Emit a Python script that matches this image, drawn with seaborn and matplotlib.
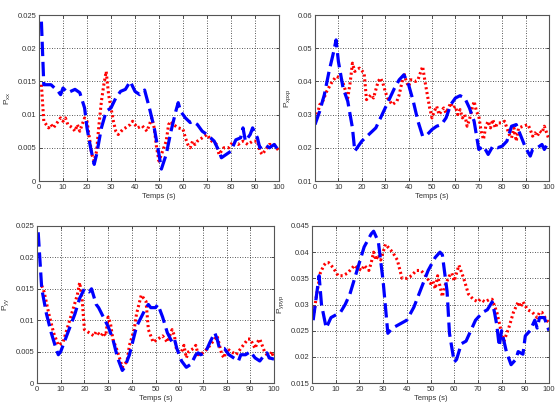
import matplotlib
matplotlib.use("Agg")
import matplotlib.pyplot as plt
import seaborn as sns
import pandas as pd
from matplotlib.ticker import FuncFormatter

# ---------------- data ----------------
# P_xx
xx_blue_t = [1, 2, 3, 5, 8, 9, 10, 12, 15, 17, 19, 20, 21.5, 23, 24, 26, 28, 30, 32, 34, 36, 38, 40, 42, 44, 46, 48, 50, 51, 53, 55, 57, 58, 59, 61, 63, 64, 66, 68, 70, 73, 75, 76, 78, 80, 82, 84, 85, 86, 88, 89, 91, 92, 94, 96, 98, 100]
xx_blue_v = [0.024, 0.0145, 0.0145, 0.0145, 0.0135, 0.013, 0.014, 0.0133, 0.0138, 0.0133, 0.011, 0.008, 0.005, 0.0025, 0.004, 0.008, 0.0105, 0.011, 0.0125, 0.0135, 0.0138, 0.015, 0.0135, 0.013, 0.0137, 0.011, 0.008, 0.004, 0.0018, 0.004, 0.0075, 0.0105, 0.0118, 0.0105, 0.0095, 0.0088, 0.009, 0.0085, 0.0075, 0.007, 0.006, 0.0045, 0.0035, 0.004, 0.0045, 0.0062, 0.0065, 0.008, 0.006, 0.007, 0.008, 0.0065, 0.005, 0.0055, 0.005, 0.0055, 0.0045]
xx_red_t = [1, 2, 3, 4, 5, 6, 8, 9, 10, 11, 12, 14, 15, 16, 17, 18, 19, 20, 21, 22, 23, 24, 25, 26, 27, 28, 29, 30, 31, 32, 33, 35, 36, 38, 39, 41, 43, 45, 46, 47, 48, 49, 50, 51, 53, 54, 55, 56, 58, 60, 61, 62, 63, 64, 65, 66, 68, 70, 72, 74, 75, 77, 79, 81, 83, 85, 87, 89, 91, 92, 93, 94, 96, 98, 100]
xx_red_v = [0.0145, 0.009, 0.0085, 0.008, 0.0085, 0.008, 0.009, 0.0095, 0.009, 0.0095, 0.0085, 0.008, 0.0075, 0.0085, 0.0075, 0.0085, 0.0095, 0.009, 0.0065, 0.004, 0.003, 0.0045, 0.0085, 0.012, 0.0145, 0.0165, 0.013, 0.011, 0.009, 0.0075, 0.007, 0.0078, 0.008, 0.0085, 0.009, 0.008, 0.0083, 0.0075, 0.0085, 0.0095, 0.008, 0.005, 0.003, 0.004, 0.006, 0.0085, 0.009, 0.0085, 0.008, 0.0078, 0.0065, 0.0055, 0.005, 0.006, 0.0055, 0.006, 0.0065, 0.007, 0.006, 0.0055, 0.004, 0.005, 0.005, 0.006, 0.0055, 0.006, 0.0055, 0.006, 0.006, 0.0045, 0.004, 0.0045, 0.0055, 0.0055, 0.0045]

# P_xpxp
xp_blue_t = [0, 2, 4, 6, 8, 9, 10, 12, 14, 16, 17, 19, 20, 23, 26, 28, 30, 32, 34, 36, 38, 40, 42, 44, 46, 48, 50, 52, 54, 56, 58, 60, 62, 64, 66, 68, 70, 72, 74, 76, 78, 80, 82, 84, 86, 88, 90, 92, 93, 95, 97, 98, 100]
xp_blue_v = [0.027, 0.031, 0.036, 0.043, 0.049, 0.0525, 0.046, 0.038, 0.034, 0.026, 0.019, 0.021, 0.022, 0.024, 0.026, 0.029, 0.032, 0.035, 0.038, 0.0405, 0.042, 0.039, 0.034, 0.028, 0.0235, 0.024, 0.0255, 0.0265, 0.027, 0.029, 0.033, 0.035, 0.0357, 0.035, 0.032, 0.028, 0.0195, 0.0205, 0.018, 0.0205, 0.02, 0.0205, 0.022, 0.0265, 0.027, 0.0235, 0.02, 0.0175, 0.0195, 0.02, 0.021, 0.0195, 0.022]
xp_red_t = [1, 2, 3, 5, 7, 9, 11, 12, 14, 15, 16, 17, 19, 21, 22, 24, 25, 27, 28, 29, 30, 31, 32, 33, 35, 36, 38, 39, 40, 41, 43, 44, 46, 47, 48, 49, 50, 51, 52, 53, 54, 55, 56, 58, 59, 60, 61, 62, 63, 64, 65, 66, 67, 68, 69, 70, 71, 72, 73, 74, 75, 76, 77, 78, 80, 81, 82, 83, 84, 85, 86, 87, 89, 91, 92, 93, 94, 95, 96, 97, 98, 100]
xp_red_v = [0.03, 0.033, 0.0335, 0.037, 0.0395, 0.0415, 0.041, 0.0395, 0.035, 0.0395, 0.0455, 0.043, 0.044, 0.0425, 0.0345, 0.036, 0.035, 0.04, 0.041, 0.0395, 0.037, 0.035, 0.034, 0.033, 0.034, 0.036, 0.0425, 0.04, 0.0385, 0.0405, 0.04, 0.0405, 0.0445, 0.04, 0.036, 0.032, 0.029, 0.031, 0.0325, 0.03, 0.031, 0.032, 0.0305, 0.0335, 0.032, 0.0325, 0.03, 0.0315, 0.029, 0.03, 0.0265, 0.0285, 0.0315, 0.034, 0.031, 0.0295, 0.025, 0.0225, 0.0265, 0.028, 0.026, 0.0285, 0.026, 0.0275, 0.0275, 0.028, 0.026, 0.024, 0.023, 0.026, 0.022, 0.026, 0.0265, 0.027, 0.0255, 0.0235, 0.0245, 0.0235, 0.025, 0.0245, 0.0265, 0.0225]

# P_yy
yy_blue_t = [0.5, 2, 4, 6, 8, 9, 10, 12, 14, 16, 18, 20, 22, 23, 25, 26, 28, 30, 32, 34, 36, 37, 39, 40, 42, 44, 46, 47, 48, 50, 51, 53, 55, 57, 58, 59, 60, 61, 63, 65, 67, 68, 69, 71, 73, 75, 76, 77, 79, 81, 83, 85, 86, 88, 90, 92, 94, 96, 97, 98, 100]
yy_blue_v = [0.024, 0.015, 0.011, 0.008, 0.0055, 0.0045, 0.005, 0.007, 0.009, 0.011, 0.0135, 0.015, 0.0145, 0.015, 0.0125, 0.012, 0.0105, 0.009, 0.007, 0.004, 0.002, 0.0025, 0.0045, 0.006, 0.009, 0.0105, 0.012, 0.0125, 0.012, 0.012, 0.0125, 0.0105, 0.008, 0.0065, 0.007, 0.0055, 0.0045, 0.0035, 0.0025, 0.003, 0.0045, 0.0048, 0.0045, 0.0048, 0.0065, 0.008, 0.007, 0.0055, 0.0055, 0.0045, 0.004, 0.0035, 0.0045, 0.0045, 0.005, 0.004, 0.0035, 0.0045, 0.0048, 0.004, 0.0038]
yy_red_t = [2, 3, 5, 7, 9, 11, 13, 15, 17, 18, 19, 20, 22, 24, 25, 27, 28, 29, 30, 31, 32, 34, 36, 38, 39, 41, 42, 44, 46, 47, 49, 51, 53, 55, 57, 58, 59, 61, 62, 63, 64, 66, 67, 68, 70, 72, 73, 75, 76, 78, 79, 80, 82, 84, 85, 87, 89, 90, 92, 93, 94, 96, 97, 98, 99, 100]
yy_red_v = [0.0155, 0.0145, 0.011, 0.008, 0.006, 0.0065, 0.009, 0.0115, 0.014, 0.016, 0.0135, 0.0085, 0.008, 0.0075, 0.0082, 0.0075, 0.008, 0.0075, 0.0105, 0.0095, 0.007, 0.005, 0.0025, 0.0035, 0.006, 0.0085, 0.011, 0.014, 0.013, 0.0085, 0.0065, 0.007, 0.0075, 0.0065, 0.0085, 0.0075, 0.005, 0.005, 0.006, 0.004, 0.005, 0.0055, 0.006, 0.0045, 0.0048, 0.0055, 0.006, 0.007, 0.0075, 0.0045, 0.004, 0.0055, 0.005, 0.0045, 0.005, 0.006, 0.007, 0.007, 0.0055, 0.0065, 0.007, 0.005, 0.0045, 0.004, 0.005, 0.004]

# P_ypyp
yp_blue_t = [0.5, 3, 4, 6, 8, 10, 12, 14, 16, 18, 20, 22, 25, 26, 28, 30, 32, 34, 36, 38, 40, 43, 46, 49, 52, 54, 55, 57, 58, 60, 61, 63, 65, 67, 69, 72, 74, 76, 77, 78, 79, 80, 82, 84, 86, 87, 89, 90, 92, 94, 95, 96, 98, 100]
yp_blue_v = [0.027, 0.0355, 0.03, 0.0255, 0.0275, 0.028, 0.0285, 0.03, 0.032, 0.035, 0.038, 0.041, 0.0435, 0.044, 0.042, 0.0345, 0.0245, 0.0255, 0.026, 0.0265, 0.027, 0.0295, 0.033, 0.0365, 0.039, 0.04, 0.0395, 0.0325, 0.0245, 0.019, 0.0195, 0.0225, 0.023, 0.025, 0.027, 0.0285, 0.029, 0.0305, 0.0285, 0.026, 0.022, 0.025, 0.021, 0.0185, 0.0195, 0.021, 0.0205, 0.024, 0.025, 0.027, 0.0255, 0.0275, 0.0275, 0.025]
yp_red_t = [0.5, 2, 3.5, 5, 6, 7, 9, 11, 13, 15, 18, 19, 21, 22, 24, 25, 26, 27, 28, 29, 31, 33, 34, 36, 38, 40, 42, 44, 46, 48, 50, 51, 52, 53, 55, 56, 58, 59, 60, 62, 64, 66, 68, 70, 71, 73, 75, 76, 78, 80, 81, 83, 85, 87, 88, 89, 91, 93, 95, 96, 97, 99, 100]
yp_red_v = [0.0275, 0.032, 0.036, 0.0375, 0.038, 0.038, 0.037, 0.0355, 0.0355, 0.036, 0.0375, 0.037, 0.0365, 0.0375, 0.0365, 0.038, 0.04, 0.0385, 0.0395, 0.0385, 0.0415, 0.0405, 0.04, 0.0385, 0.035, 0.035, 0.0355, 0.0365, 0.0365, 0.0355, 0.034, 0.0345, 0.033, 0.0355, 0.0315, 0.0335, 0.0355, 0.036, 0.0345, 0.0375, 0.035, 0.032, 0.031, 0.0305, 0.031, 0.0305, 0.031, 0.031, 0.0285, 0.0245, 0.023, 0.0255, 0.0285, 0.0305, 0.0295, 0.0305, 0.029, 0.0285, 0.0275, 0.0285, 0.0285, 0.027, 0.0265]

ylabels = [r"$\mathregular{P_{xx}}$", r"$\mathregular{P_{xpxp}}$",
           r"$\mathregular{P_{yy}}$", r"$\mathregular{P_{ypyp}}$"]
ylims = [(0, 0.025), (0.01, 0.06), (0, 0.025), (0.015, 0.045)]
ysteps = [0.005, 0.01, 0.005, 0.005]
xlabel = "Temps (s)"

# ---------------- plot ----------------
sns.set_theme(style="white")
plt.rcParams["font.family"] = ["Liberation Sans Narrow", "Liberation Sans", "DejaVu Sans"]
plt.rcParams["mathtext.fontset"] = "custom"
plt.rcParams["mathtext.rm"] = "Liberation Sans Narrow"

fig = plt.figure(figsize=(5.55, 4.05), dpi=100)
positions = [
    [39 / 555, (405 - 181) / 405, 240 / 555, 166 / 405],
    [315 / 555, (405 - 181) / 405, 234 / 555, 166 / 405],
    [37 / 555, (405 - 383) / 405, 237 / 555, 157 / 405],
    [312 / 555, (405 - 383) / 405, 237 / 555, 157 / 405],
]
series = [
    (xx_blue_t, xx_blue_v, xx_red_t, xx_red_v),
    (xp_blue_t, xp_blue_v, xp_red_t, xp_red_v),
    (yy_blue_t, yy_blue_v, yy_red_t, yy_red_v),
    (yp_blue_t, yp_blue_v, yp_red_t, yp_red_v),
]
fmt = FuncFormatter(lambda v, p: ("%g" % round(v, 4)))

for i in range(4):
    ax = fig.add_axes(positions[i])
    bt, bv, rt, rv = series[i]
    dfb = pd.DataFrame({"t": bt, "v": bv})
    dfr = pd.DataFrame({"t": rt, "v": rv})
    sns.lineplot(data=dfr, x="t", y="v", ax=ax, color="#ff0000", lw=2.2,
                 linestyle=(0, (0.7, 0.9)), dash_capstyle="butt")
    sns.lineplot(data=dfb, x="t", y="v", ax=ax, color="#0000ff", lw=2.3,
                 linestyle=(0, (4.5, 1.8)))
    ax.set_xlim(0, 100)
    ax.set_ylim(*ylims[i])
    ax.set_xticks(range(0, 101, 10))
    lo, hi = ylims[i]
    n = int(round((hi - lo) / ysteps[i]))
    ax.set_yticks([lo + k * ysteps[i] for k in range(n + 1)])
    ax.yaxis.set_major_formatter(fmt)
    ax.grid(True, color="#222222", linestyle=(0, (1, 2)), linewidth=0.6)
    ax.set_axisbelow(True)
    ax.tick_params(direction="in", length=2.5, width=0.6, labelsize=5.5,
                   pad=2, colors="#333333", top=True, right=True,
                   bottom=True, left=True)
    for s in ax.spines.values():
        s.set_color("#555555")
        s.set_linewidth(0.8)
    ax.set_xlabel(xlabel, fontsize=5.5, labelpad=1.5, color="#333333")
    ax.set_ylabel(ylabels[i], fontsize=6, labelpad=3, color="#333333")

fig.savefig("out.png", dpi=100)
